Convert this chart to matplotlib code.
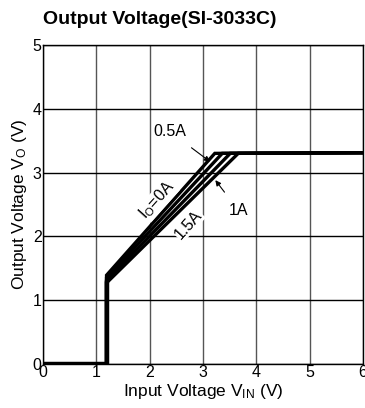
import matplotlib
matplotlib.use("Agg")
import matplotlib.pyplot as plt

plt.rcParams['font.family'] = ['Liberation Sans', 'DejaVu Sans']

# Data
io_labels = ["Io=0A", "0.5A", "1A", "1.5A"]
vin_threshold = 1.19
start_vout = [1.39, 1.35, 1.31, 1.27]
knee_vin = [3.22, 3.36, 3.51, 3.66]
vout_reg = 3.30
vout_end = 3.31
vin_max = 6.0

xticks = [0, 1, 2, 3, 4, 5, 6]
yticks = [0, 1, 2, 3, 4, 5]

fig = plt.figure(figsize=(3.65, 4.08), dpi=100)
ax = fig.add_axes([0.118, 0.108, 0.8767, 0.782])

for s, k in zip(start_vout, knee_vin):
    ax.plot([0, vin_threshold, vin_threshold, k, vin_max],
            [0, 0, s, vout_reg, vout_end], color='black', lw=2.4,
            solid_joinstyle='miter', zorder=3)
# thick base segment
ax.plot([0, vin_threshold, vin_threshold], [0, 0, min(start_vout)],
        color='black', lw=3.2, zorder=3)

ax.set_xlim(0, 6)
ax.set_ylim(0, 5)
ax.set_xticks(xticks)
ax.set_yticks(yticks)
ax.grid(True, axis='x', color='#555555', lw=1.0)
ax.grid(True, axis='y', color='black', lw=1.0)
ax.set_axisbelow(True)
ax.tick_params(length=0, labelsize=11.5, pad=1)
for sp in ax.spines.values():
    sp.set_linewidth(1.0)

ax.set_xlabel(r"Input Voltage V$\mathregular{_{IN}}$ (V)", fontsize=12.5, labelpad=1)
ax.set_ylabel(r"Output Voltage V$\mathregular{_{O}}$ (V)", fontsize=12.5, labelpad=3)

fig.text(0.118, 0.952, "Output Voltage(SI-3033C)", fontsize=14,
         fontweight='bold', ha='left', va='center')

# annotations
ax.annotate("0.5A", xy=(3.13, 3.17), xytext=(2.38, 3.64),
            ha='center', va='center', fontsize=11.5,
            arrowprops=dict(arrowstyle='-|>', color='black', lw=0.8,
                            shrinkA=7, shrinkB=0, mutation_scale=8))
ax.annotate("1A", xy=(3.23, 2.88), xytext=(3.66, 2.41),
            ha='center', va='center', fontsize=11.5,
            arrowprops=dict(arrowstyle='-|>', color='black', lw=0.8,
                            shrinkA=7, shrinkB=0, mutation_scale=8))
ax.text(2.14, 2.56, r"I$\mathregular{_{O}}$=0A", rotation=48, fontsize=11.5,
        ha='center', va='center',
        bbox=dict(facecolor='white', edgecolor='none', pad=0.3))
ax.text(2.73, 2.18, "1.5A", rotation=48, fontsize=11.5,
        ha='center', va='center',
        bbox=dict(facecolor='white', edgecolor='none', pad=0.3))

fig.savefig("out.png", dpi=100)
